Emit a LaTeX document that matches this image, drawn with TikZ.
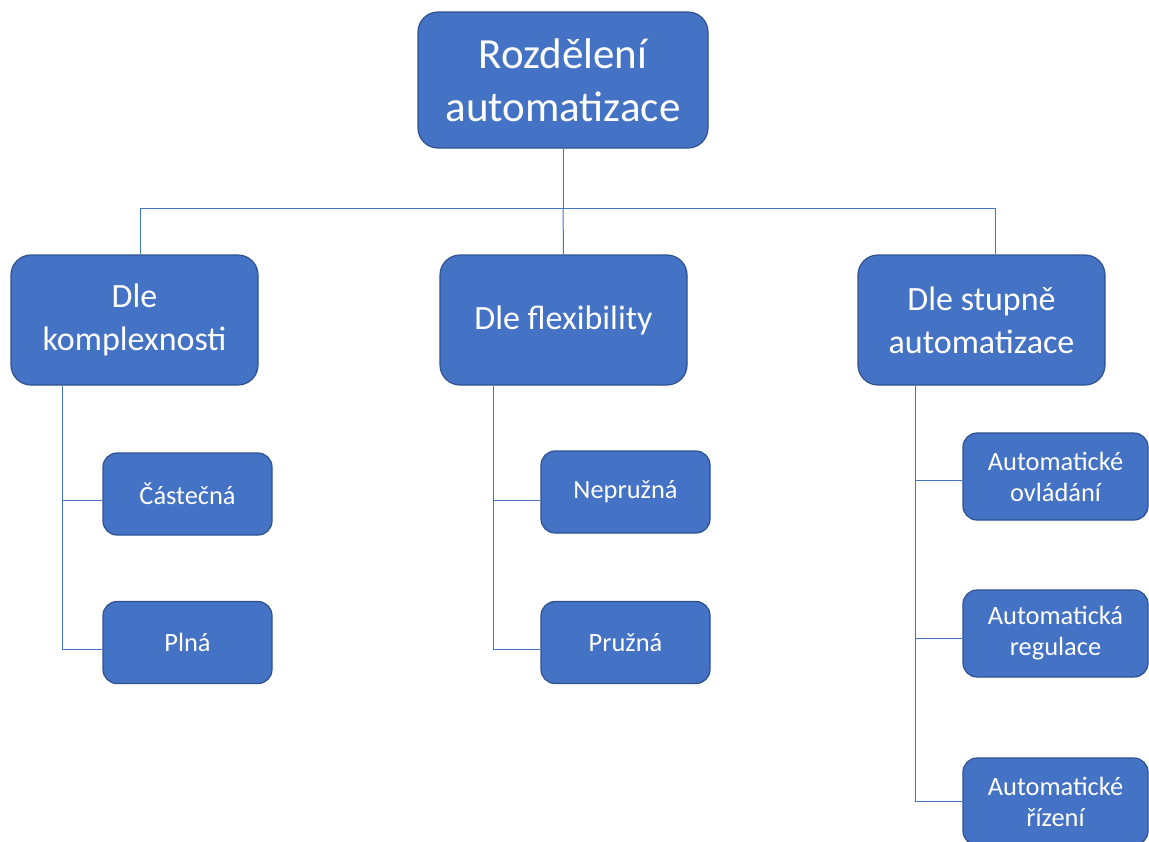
\documentclass[tikz,border=0pt]{standalone}
\usepackage{fontspec}
\setmainfont{Carlito}

\begin{document}
\begin{tikzpicture}[x=0.5pt,y=-0.5pt]
    \definecolor{boxfill}{HTML}{4472C4}
    \definecolor{boxline}{HTML}{2F528F}
    \tikzstyle{box} = [draw=boxline,fill=boxfill,line width=0.6pt,text=white,align=center,inner sep=0pt]
    \tikzstyle{big} = [box,minimum width=145pt,minimum height=68pt,rounded corners=10pt,font=\fontsize{21.5}{26.5}\selectfont]
    \tikzstyle{mid} = [box,minimum width=123.5pt,minimum height=65pt,rounded corners=10pt,font=\fontsize{17}{21.5}\selectfont]
    \tikzstyle{leaf} = [box,minimum width=84.5pt,minimum height=41pt,rounded corners=7pt,font=\fontsize{13.2}{15.5}\selectfont]
    \tikzstyle{wide} = [leaf,minimum width=92.5pt,minimum height=43.5pt]
    \tikzstyle{link} = [draw=boxfill,line width=0.5pt]
    \useasboundingbox (0,0) rectangle (1149,841);
    \node [big] (r) at (563,80) {Rozdělení\\automatizace};
    \node [mid] (k) at (134.5,320) {Dle\\komplexnosti};
    \node [mid] (f) at (563.5,320) {Dle flexibility};
    \node [mid] (s) at (981.5,320) {Dle stupně\\automatizace};
    \node [leaf] (k1) at (187.5,494) {Částečná};
    \node [leaf] (k2) at (187.5,642.5) {Plná};
    \node [leaf] (f1) at (625.5,492) {Nepružná};
    \node [leaf] (f2) at (625.5,642.5) {Pružná};
    \node [wide] (s1) at (1055.5,476.5) {Automatické\\ovládání};
    \node [wide] (s2) at (1055.5,633.5) {Automatická\\regulace};
    \node [wide] (s3) at (1055.5,801.5) {Automatické\\řízení};
    \coordinate (bl) at (140,208);
    \coordinate (br) at (995,208);
    \coordinate (kx) at (62,0);
    \coordinate (fx) at (493,0);
    \coordinate (sx) at (915,0);
    \draw [link] (r.south) -- (r.south |- bl);
    \draw [link] (bl) -- (br);
    \draw [link] (bl) -- (bl |- k.north);
    \draw [link] (r.south |- bl) -- (f.north);
    \draw [link] (br) -- (br |- s.north);
    \draw [link] (k.south -| kx) |- ([yshift=-3pt]k1.west);
    \draw [link] (k.south -| kx) |- ([yshift=-3.5pt]k2.west);
    \draw [link] (f.south -| fx) |- ([yshift=-4pt]f1.west);
    \draw [link] (f.south -| fx) |- ([yshift=-3.5pt]f2.west);
    \draw [link] (s.south -| sx) |- ([yshift=-2.2pt]s1.west);
    \draw [link] (s.south -| sx) |- ([yshift=-2.7pt]s2.west);
    \draw [link] (s.south -| sx) |- (s3.west);
  \end{tikzpicture}
\end{document}
